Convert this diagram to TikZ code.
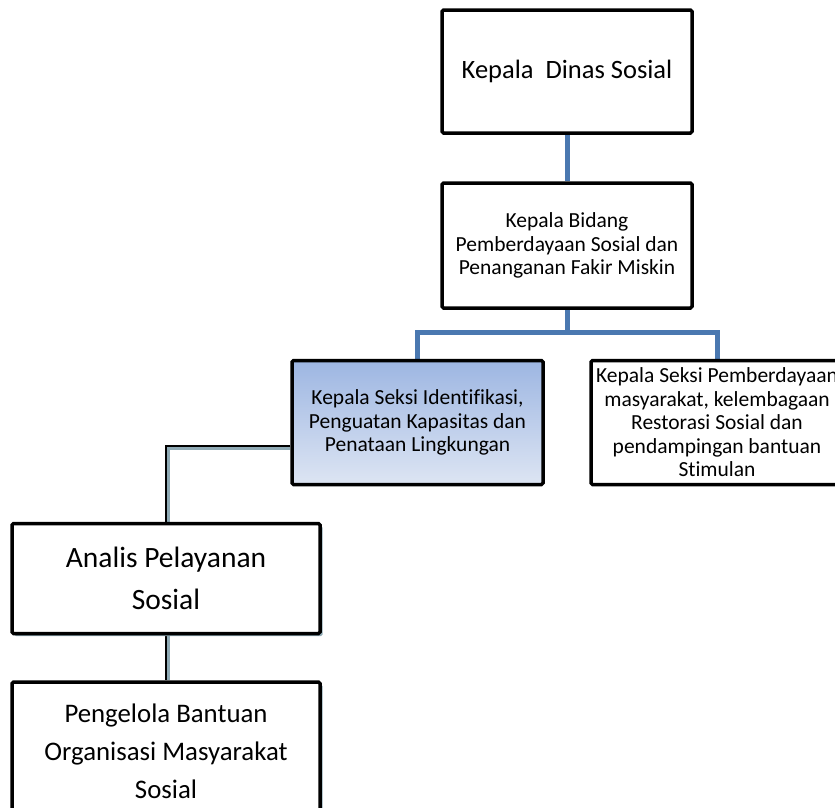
\documentclass[tikz,border=0pt]{standalone}
\usepackage{fontspec}
\setmainfont{Carlito}[Ligatures=NoCommon]
\usetikzlibrary{positioning,shadows,backgrounds}
\definecolor{linkblue}{RGB}{74,120,176}
\definecolor{shadegray}{RGB}{143,170,181}
\definecolor{seksitop}{RGB}{157,182,226}
\definecolor{seksibot}{RGB}{221,229,243}
\tikzset{
  jabatan/.style={draw=black,line width=3.5pt,rounded corners=1.5pt,fill=white,align=center,inner sep=0pt},
  bayang/.style={drop shadow={shadow xshift=2.5pt,shadow yshift=-2.5pt,fill=shadegray,opacity=1}},
  garisbiru/.style={draw=linkblue,line width=5pt},
  garishitam/.style={draw=black,line width=2.2pt},
  garisbayang/.style={draw=shadegray,line width=2.2pt}
}

\begin{document}
\begin{tikzpicture}[on grid]
   \useasboundingbox (0,0) rectangle (835pt,-807pt);
   \node[jabatan,minimum width=250pt,minimum height=123pt,font=\fontsize{26.5pt}{30pt}\selectfont] (kadis) at (567pt,-71.5pt) {Kepala~ Dinas Sosial};
   \node[jabatan,minimum width=250pt,minimum height=125pt,font=\fontsize{21.5pt}{23.5pt}\selectfont] (kabid) [below=174pt of kadis] {Kepala Bidang\\Pemberdayaan Sosial dan\\Penanganan Fakir Miskin};
   \node[jabatan,minimum width=251pt,minimum height=124pt,top color=seksitop,bottom color=seksibot,font=\fontsize{21.5pt}{23.5pt}\selectfont] (seksiA) [below left=177pt and 149.5pt of kabid] {Kepala Seksi Identifikasi,\\Penguatan Kapasitas dan\\Penataan Lingkungan};
   \node[jabatan,minimum width=252pt,minimum height=124pt,font=\fontsize{21.5pt}{23.5pt}\selectfont] (seksiB) [right=299.5pt of seksiA] {Kepala Seksi Pemberdayaan\\masyarakat, kelembagaan\\Restorasi Sosial dan\\pendampingan bantuan\\Stimulan};
   \node[jabatan,bayang,minimum width=308pt,minimum height=110pt,font=\fontsize{29.5pt}{42pt}\selectfont] (analis) [below left=156pt and 251.5pt of seksiA] {Analis Pelayanan\\Sosial};
   \node[jabatan,bayang,minimum width=308pt,minimum height=138pt,font=\fontsize{26.8pt}{38pt}\selectfont] (pengelola) [below=172.5pt of analis] {Pengelola Bantuan\\Organisasi Masyarakat\\Sosial};

   \begin{scope}[on background layer]
   \draw[garisbiru] (kadis.south) -- (kabid.north);
   \draw[garisbiru] (kabid.south) -- ++(0,-23pt) -| (seksiA.north);
   \draw[garisbiru] (kabid.south) -- ++(0,-23pt) -| (seksiB.north);
   % garis ke staf
   \draw[garisbayang] ([shift={(0,-26pt)}]seksiA.west) -| ([xshift=2.5pt]analis.north);
   \draw[garishitam] ([yshift=-23.5pt]seksiA.west) -| (analis.north);
   \draw[garisbayang] ([xshift=2.5pt]analis.south) -- ([xshift=2.5pt]pengelola.north);
   \draw[garishitam] (analis.south) -- (pengelola.north);
   \end{scope}
\end{tikzpicture}
\end{document}
